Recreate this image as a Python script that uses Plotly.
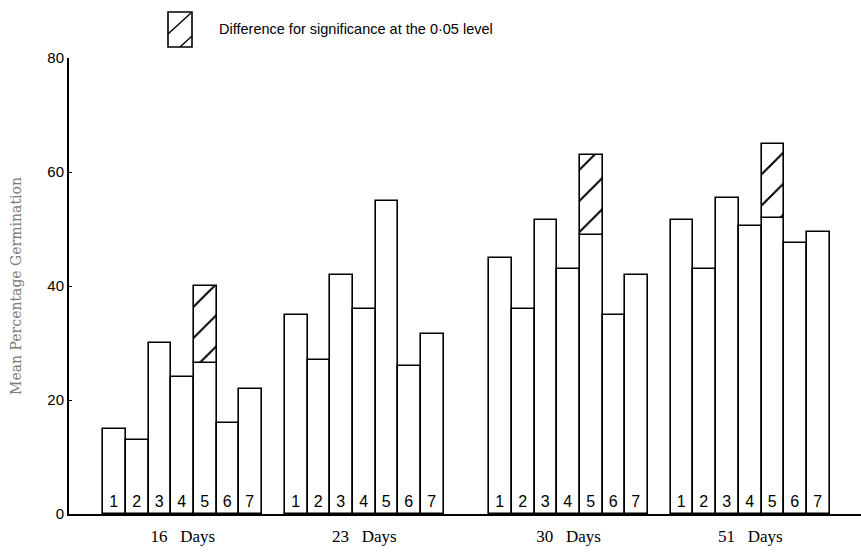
import plotly.graph_objects as go

# ---- data ----
groups = ["16", "23", "30", "51"]
treatments = ["1", "2", "3", "4", "5", "6", "7"]
days_16 = [15, 13, 30, 24, 26.5, 16, 22]
days_23 = [35, 27, 42, 36, 55, 26, 31.5]
days_30 = [45, 36, 51.5, 43, 49, 35, 42]
days_51 = [51.5, 43, 55.5, 50.5, 52, 47.5, 49.5]
# top of the "difference for significance" block on treatment 5 (None = not shown)
sig_top = [40, None, 63, 65]
y_ticks = [0, 20, 40, 60, 80]
legend_text = "Difference for significance at the 0·05 level"
y_title = "Mean Percentage Germination"

series = [days_16, days_23, days_30, days_51]

# ---- layout helpers (positions in bar-width units) ----
group_start = [0, 8, 17, 25]

fig = go.Figure()

xs, ys, txt = [], [], []
for g, vals in enumerate(series):
    for i, v in enumerate(vals):
        xs.append(group_start[g] + i + 0.5)
        ys.append(v)
        txt.append(treatments[i])

fig.add_trace(go.Bar(
    x=xs, y=ys, width=1.0, text=txt,
    textposition="inside", insidetextanchor="start", textangle=0,
    textfont=dict(family="Liberation Sans, Arial, sans-serif", size=16, color="black"),
    constraintext="none",
    marker=dict(color="white", line=dict(color="black", width=1.6)),
    showlegend=False, hoverinfo="skip",
))

hx, hbase, hy = [], [], []
for g, top in enumerate(sig_top):
    if top is None:
        continue
    v = series[g][4]
    hx.append(group_start[g] + 4 + 0.5)
    hbase.append(v)
    hy.append(top - v)

fig.add_trace(go.Bar(
    x=hx, y=hy, base=hbase, width=1.0,
    marker=dict(color="white", line=dict(color="black", width=1.6),
                pattern=dict(shape="/", fgcolor="#000000", fgopacity=1,
                             bgcolor="white", size=22, solidity=0.09)),
    showlegend=False, hoverinfo="skip",
))

centers = [s + 3.5 for s in group_start]

# plot area in pixels: x 69..861, y 58..514
W, H = 861, 552
L, R, T, B = 69, 0, 58, 38
pw, ph = W - L - R, H - T - B

def px(x):
    return (x - L) / pw

def py(y):
    return (H - B - y) / ph

# legend box with hatch
shapes = [
    dict(type="rect", xref="paper", yref="paper",
         x0=px(168), x1=px(192), y0=py(47), y1=py(12),
         line=dict(color="black", width=1.6), fillcolor="white"),
    dict(type="line", xref="paper", yref="paper",
         x0=px(168), y0=py(34), x1=px(191), y1=py(13),
         line=dict(color="black", width=1.4)),
    dict(type="line", xref="paper", yref="paper",
         x0=px(180), y0=py(47), x1=px(192), y1=py(36),
         line=dict(color="black", width=1.4)),
]

annotations = [
    dict(text=legend_text, xref="paper", yref="paper",
         x=px(217), y=py(29), xanchor="left", yanchor="middle",
         showarrow=False,
         font=dict(family="Liberation Sans, Arial, sans-serif", size=14.5, color="black")),
]

fig.update_layout(
    width=W, height=H,
    margin=dict(l=L, r=R, t=T, b=B, pad=0),
    paper_bgcolor="white", plot_bgcolor="white",
    barmode="overlay", bargap=0,
    shapes=shapes, annotations=annotations,
    xaxis=dict(
        range=[-1.51, -1.51 + pw / 22.7],
        tickvals=centers,
        ticktext=[f"{g}\u00a0\u00a0\u00a0Days" for g in groups],
        tickfont=dict(family="Liberation Serif, Times New Roman, serif", size=17, color="black"),
        showline=True, linecolor="black", linewidth=1.6,
        ticks="outside", ticklen=6, tickcolor="rgba(0,0,0,0)",
        showgrid=False, zeroline=False, fixedrange=True,
    ),
    yaxis=dict(
        range=[0, 80],
        tickvals=y_ticks,
        tickfont=dict(family="Liberation Sans, Arial, sans-serif", size=15, color="black"),
        showline=True, linecolor="black", linewidth=2,
        ticks="inside", ticklen=3, tickcolor="black",
        showgrid=False, zeroline=False, fixedrange=True,
        title=dict(text=y_title, standoff=22,
                   font=dict(family="DejaVu Serif, serif", size=14, color="#7a7a7a")),
    ),
)

fig.write_html("out.html",
               config={"displayModeBar": False},
               post_script="document.body.style.margin='0';document.body.style.overflow='hidden';")
